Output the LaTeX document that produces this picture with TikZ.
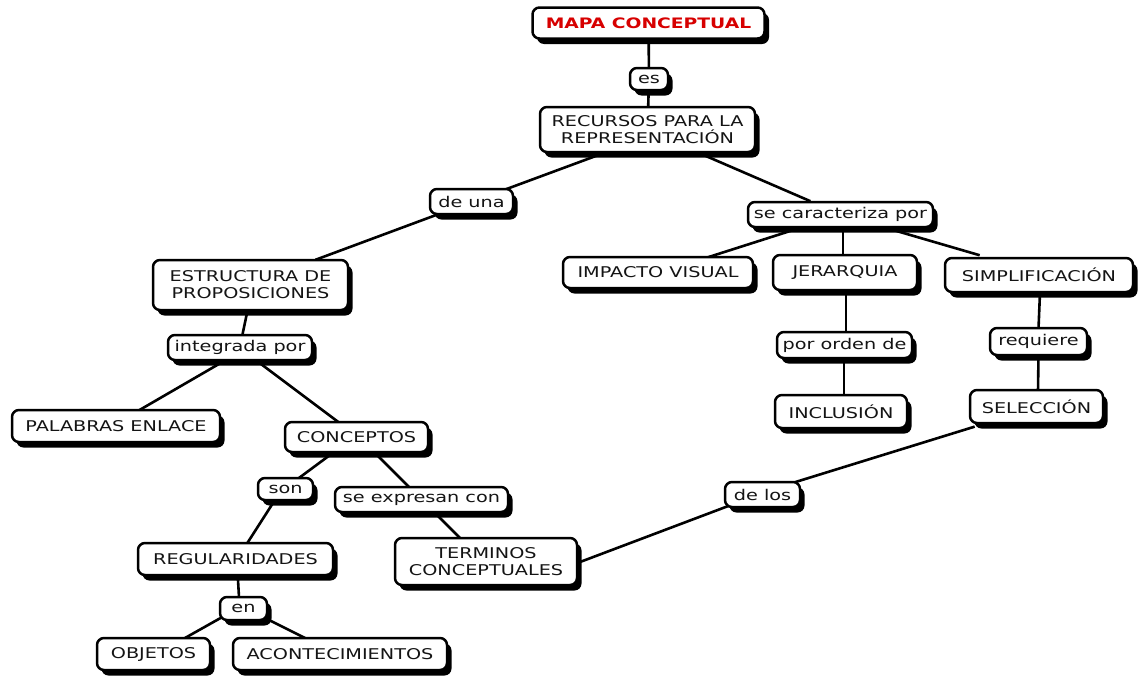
\documentclass[tikz,border=0pt]{standalone}
\usepackage{fontspec}
\setmainfont{DejaVu Sans}[FakeStretch=1.3]
\usetikzlibrary{shadows,backgrounds,calc}
\definecolor{txt}{RGB}{20,20,20}
\definecolor{titlered}{RGB}{215,0,0}
\begin{document}
\begin{tikzpicture}[x=1pt,y=-1pt,
  box/.style={draw=black, line width=2.5pt, fill=white, rounded corners=7pt,
    inner sep=0pt, align=center, text=txt,
    font=\fontsize{14.8}{17}\selectfont,
    general shadow={fill=black, shadow xshift=4.5pt, shadow yshift=-5.5pt}},
  bw/.style 2 args={box, minimum width=#1, minimum height=#2},
  link/.style={draw=black, line width=2.6pt, shorten <=-8pt, shorten >=-8pt}]
\useasboundingbox (0,0) rectangle (1139,675);

\node[bw={232pt}{31pt}, font=\bfseries\fontsize{14.4}{17}\selectfont, text=titlered] (mapa) at (648.5,23) {MAPA CONCEPTUAL};
\node[bw={38pt}{22pt}] (es) at (649,79) {es};
\node[bw={215pt}{45pt}] (rec) at (647.5,129.5) {RECURSOS PARA LA\\REPRESENTACIÓN};
\node[bw={83pt}{25pt}] (deuna) at (471.5,201.5) {de una};
\node[bw={185pt}{25pt}] (secar) at (840.5,214.5) {se caracteriza por};
\node[bw={195pt}{50pt}] (estr) at (250.5,285) {ESTRUCTURA DE\\PROPOSICIONES};
\node[bw={190pt}{31pt}] (imp) at (658,272.5) {IMPACTO VISUAL};
\node[bw={144pt}{35pt}] (jer) at (845,272.5) {JERARQUIA};
\node[bw={188pt}{34pt}] (simp) at (1039,275) {SIMPLIFICACIÓN};
\node[bw={144pt}{25pt}] (integ) at (240,347.5) {integrada por};
\node[bw={135pt}{26pt}] (porord) at (844.5,345) {por orden de};
\node[bw={97pt}{27pt}] (req) at (1038.5,341.5) {requiere};
\node[bw={132pt}{33pt}] (incl) at (841,411.5) {INCLUSIÓN};
\node[bw={133pt}{33pt}] (sel) at (1036.5,406.5) {SELECCIÓN};
\node[bw={208pt}{32pt}] (pal) at (116,426) {PALABRAS ENLACE};
\node[bw={143pt}{30pt}] (conc) at (356.5,437) {CONCEPTOS};
\node[bw={55pt}{22pt}] (son) at (285.5,489) {son};
\node[bw={173pt}{25pt}] (seexp) at (421.5,499.5) {se expresan con};
\node[bw={195pt}{32pt}] (reg) at (235.5,559) {REGULARIDADES};
\node[bw={182pt}{47pt}] (term) at (486,561.5) {TERMINOS\\CONCEPTUALES};
\node[bw={75pt}{25pt}] (delos) at (762.5,494.5) {de los};
\node[bw={47pt}{23pt}] (en) at (243.5,608.5) {en};
\node[bw={113pt}{32pt}] (obj) at (153.5,654) {OBJETOS};
\node[bw={214pt}{32pt}] (acon) at (340,654) {ACONTECIMIENTOS};

\begin{scope}[on background layer]
\draw[link] (mapa) -- (es);
\draw[link] (es) -- (rec);
\draw[link] ($(rec)+(-35.5,20.5)$) -- ($(deuna)+(40.5,-14.5)$);
\draw[link] ($(deuna)+(-43.5,16.5)$) -- ($(estr)+(72.5,-28)$);
\draw[link] ($(rec)+(44.5,20.5)$) -- ($(secar)+(-37.5,-16.5)$);
\draw[link] ($(secar)+(-53.5,17.5)$) -- ($(imp)+(57,-17.5)$);
\draw[link] ($(secar)+(2.5,12)$) -- ($(jer)+(-2,-17)$);
\draw[link] ($(secar)+(59.5,17.5)$) -- ($(simp)+(-67,-22)$);
\draw[link] ($(jer)+(1,17)$) -- ($(porord)+(1.5,-13)$);
\draw[link] ($(porord)+(-0.5,13)$) -- ($(incl)+(3,-16)$);
\draw[link] ($(simp)+(1,17)$) -- ($(req)+(0,-13)$);
\draw[link] ($(req)+(0,13)$) -- ($(sel)+(1.5,-16)$);
\draw[link] ($(sel)+(-69.5,22.5)$) -- ($(delos)+(39.5,-14.5)$);
\draw[link] ($(delos)+(-39.5,13.5)$) -- ($(term)+(94,0.5)$);
\draw[link] ($(estr)+(-3.5,28)$) -- ($(integ)+(3,-15.5)$);
\draw[link] ($(integ)+(-28,20.5)$) -- ($(pal)+(27,-18)$);
\draw[link] ($(integ)+(25,19.5)$) -- ($(conc)+(-23.5,-19)$);
\draw[link] ($(conc)+(-26.5,18)$) -- ($(son)+(17.5,-14)$);
\draw[link] ($(conc)+(20.5,18)$) -- ($(seexp)+(-14.5,-14.5)$);
\draw[link] ($(son)+(-12.5,14)$) -- ($(reg)+(12.5,-17)$);
\draw[link] ($(seexp)+(15.5,15.5)$) -- ($(term)+(-26,-23.5)$);
\draw[link] ($(reg)+(2.5,21)$) -- ($(en)+(-4.5,-11.5)$);
\draw[link] ($(en)+(-26.5,11.5)$) -- ($(obj)+(31.5,-16)$);
\draw[link] ($(en)+(21.5,9.5)$) -- ($(acon)+(-35,-16)$);
\end{scope}
\end{tikzpicture}
\end{document}
